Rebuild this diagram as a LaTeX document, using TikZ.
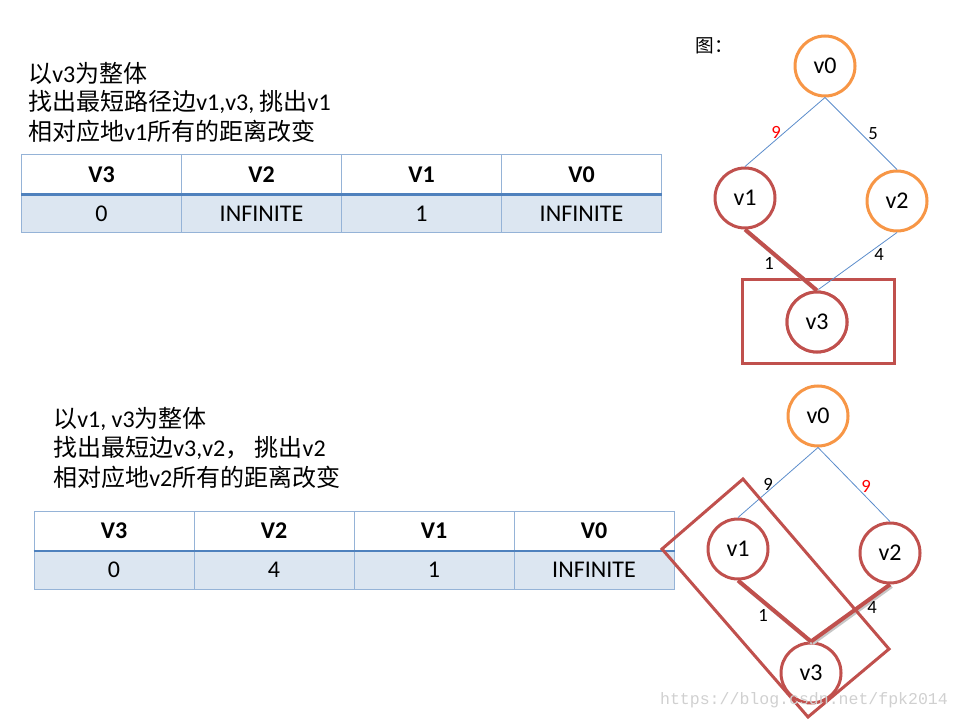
\documentclass[tikz,border=0pt]{standalone}
\usepackage{fontspec}
\setmainfont{Carlito}
\newfontfamily\cjk{Noto Sans CJK SC}
\newfontfamily\wmfont{Liberation Mono}
\definecolor{tblue}{HTML}{95B3D7}
\definecolor{dblue}{HTML}{4F81BD}
\definecolor{cellfill}{HTML}{DCE6F1}
\definecolor{nred}{HTML}{C0504D}
\definecolor{norange}{HTML}{F79646}
\definecolor{eblue}{HTML}{5B8CCB}
\definecolor{wmgrey}{HTML}{D0D0D0}
\tikzset{
  txt/.style={anchor=west, inner sep=0pt, font=\fontsize{18}{21}\selectfont},
  headcell/.style={draw=tblue, line width=0.75pt, fill=white, minimum width=120pt, minimum height=29.25pt, inner sep=0pt, font=\fontsize{18}{21}\selectfont\bfseries},
  bodycell/.style={draw=tblue, line width=0.75pt, fill=cellfill, minimum width=120pt, minimum height=29.25pt, inner sep=0pt, font=\fontsize{18}{21}\selectfont},
  divider/.style={draw=dblue, line width=2pt},
  vnode/.style={circle, minimum size=45pt, inner sep=0pt, line width=2.25pt, fill=white, font=\fontsize{18}{21}\selectfont},
  onode/.style={vnode, draw=norange},
  rnode/.style={vnode, draw=nred},
  thinedge/.style={draw=eblue, line width=0.6pt},
  thickedge/.style={draw=nred, line width=3pt, preaction={draw=black!22, line width=3pt, transform canvas={xshift=1.2pt,yshift=-1.2pt}}},
  elabel/.style={inner sep=0pt, font=\fontsize{14}{16}\selectfont},
  hilite/.style={draw=nred, line width=2.25pt},
}
\begin{document}
\begin{tikzpicture}[x=0.75pt, y=-0.75pt]
\useasboundingbox (0,0) rectangle (960,720);

% ---------- top text ----------
\node[txt] (l1) at (28,73) {{\cjk 以}v3{\cjk 为整体}};
\node[txt] (l2) at (28,102) {{\cjk 找出最短路径边}v1,v3, {\cjk 挑出}v1};
\node[txt] (l3) at (28,131) {{\cjk 相对应地}v1{\cjk 所有的距离改变}};

% ---------- top table ----------
\node[headcell] (a1) at (101.5,174.5) {V3};
\node[headcell] (a2) at (261.5,174.5) {V2};
\node[headcell] (a3) at (421.5,174.5) {V1};
\node[headcell] (a4) at (581.5,174.5) {V0};
\node[bodycell] (b1) at (101.5,213.5) {0};
\node[bodycell] (b2) at (261.5,213.5) {INFINITE};
\node[bodycell] (b3) at (421.5,213.5) {1};
\node[bodycell] (b4) at (581.5,213.5) {INFINITE};
\draw[divider] (a1.south west) -- (a4.south east);

% ---------- top graph ----------
\node[inner sep=0pt, font=\fontsize{14}{16}\selectfont\cjk] (tu) at (714,46) {图：};
\draw[hilite] (742,280) rectangle (894,363);
\node[onode] (p0) at (825,66) {v0};
\node[rnode] (p1) at (745,198) {v1};
\node[onode] (p2) at (897,201) {v2};
\node[rnode] (p3) at (817,322) {v3};
\draw[thinedge] (p0.south) -- (p1.north);
\draw[thinedge] (p0.south) -- (p2.north);
\draw[thinedge] (p2.south) -- (p3.north);
\draw[thickedge] (p1.south) -- (p3.north);
\node[rnode] at (p3) {v3};
\node[elabel, text=red] (w1) at (776,132) {9};
\node[elabel] (w2) at (873,134) {5};
\node[elabel] (w3) at (769,263) {1};
\node[elabel] (w4) at (879,255) {4};

% ---------- bottom text ----------
\node[txt] (m1) at (53,419) {{\cjk 以}v1, v3{\cjk 为整体}};
\node[txt] (m2) at (53,448) {{\cjk 找出最短边}v3,v2{\cjk ，} {\cjk 挑出}v2};
\node[txt] (m3) at (53,477) {{\cjk 相对应地}v2{\cjk 所有的距离改变}};

% ---------- bottom table ----------
\node[headcell] (c1) at (114,531) {V3};
\node[headcell] (c2) at (274,531) {V2};
\node[headcell] (c3) at (434,531) {V1};
\node[headcell] (c4) at (594,531) {V0};
\node[bodycell] (d1) at (114,569.5) {0};
\node[bodycell] (d2) at (274,569.5) {4};
\node[bodycell] (d3) at (434,569.5) {1};
\node[bodycell] (d4) at (594,569.5) {INFINITE};
\draw[divider] (c1.south west) -- (c4.south east);

% ---------- bottom graph ----------
\node[onode] (q0) at (818,416) {v0};
\node[rnode] (q1) at (738,549) {v1};
\node[rnode] (q2) at (890,553) {v2};
\node[rnode] (q3) at (811,673) {v3};
\draw[thinedge] (q0.south) -- (q1.north);
\draw[thinedge] (q0.south) -- (q2.north);
\draw[thickedge] (q1.south) -- (q3.north);
\draw[thickedge] (q2.south) -- (q3.north);
\draw[hilite, line join=miter] (743,479) -- (889,649) -- (808,717) -- (662,549) -- cycle;
\node[elabel] (x1) at (768,484) {9};
\node[elabel, text=red] (x2) at (866,486) {9};
\node[elabel] (x3) at (763,615) {1};
\node[elabel] (x4) at (872,608) {4};

% ---------- watermark ----------
\node[inner sep=0pt, text=wmgrey, font=\fontsize{12.4}{14}\selectfont\wmfont] (wm) at (804,700) {https://blog.csdn.net/fpk2014};
\end{tikzpicture}
\end{document}
